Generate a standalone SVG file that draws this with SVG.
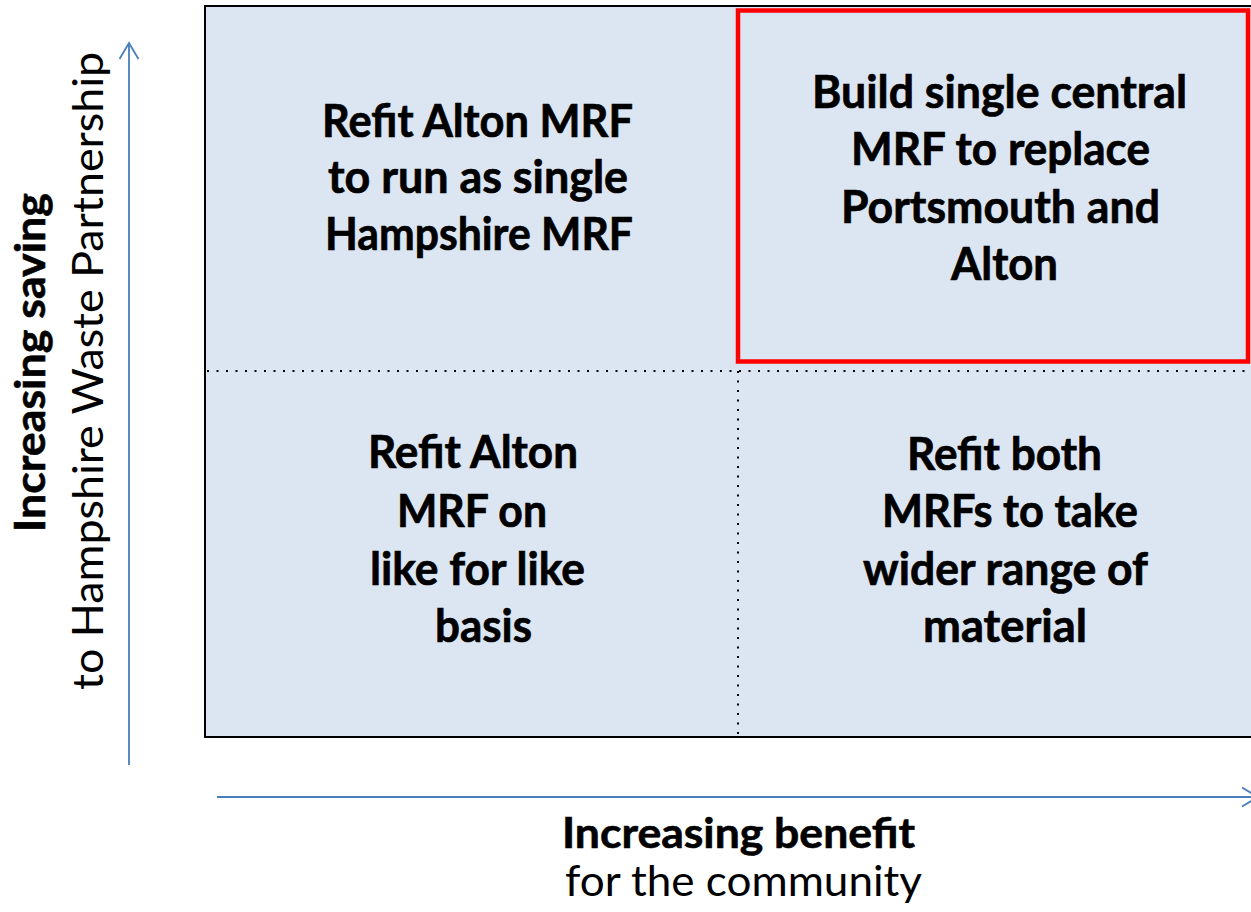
<svg xmlns="http://www.w3.org/2000/svg" width="1251" height="912" viewBox="0 0 1251 912">
  <style>
    .q { font-family: Lato, "Liberation Sans", sans-serif; font-weight: bold; font-size: 46px; fill: #000; stroke: #000; stroke-width: 0.7; text-anchor: middle; }
    .ab { font-family: Lato, "Liberation Sans", sans-serif; font-weight: bold; font-size: 42px; fill: #000; stroke: #000; stroke-width: 0.6; text-anchor: middle; }
    .an { font-family: Lato, "Liberation Sans", sans-serif; font-weight: normal; font-size: 43px; fill: #000; text-anchor: middle; }
    .dot { stroke: #000; stroke-width: 2; stroke-dasharray: 2 7.5; fill: none; }
    .axis { stroke: #4a7ebb; stroke-width: 1.8; fill: none; marker-end: url(#chev); }
  </style>
  <defs>
    <marker id="chev" viewBox="0 0 16 19" refX="16" refY="9.5" markerWidth="16" markerHeight="19" markerUnits="userSpaceOnUse" orient="auto" overflow="visible">
      <path d="M0,0 L16,9.5 L0,19" fill="none" stroke="#4a7ebb" stroke-width="1.8"/>
    </marker>
  </defs>
  <rect width="1251" height="912" fill="#ffffff"/>

  <g id="matrix">
    <rect x="205" y="6" width="1060" height="731" fill="#dce6f2" stroke="#000" stroke-width="2"/>
    <line class="dot" x1="207" y1="371" x2="1251" y2="371"/>
    <line class="dot" x1="738" y1="371" x2="738" y2="736"/>
  </g>

  <g id="connectors">
    <line class="axis" x1="129" y1="765" x2="129" y2="43"/>
    <line class="axis" x1="217" y1="797" x2="1258" y2="797"/>
  </g>

  <g id="q-top-left">
    <text class="q" x="477.5" y="137" textLength="311" lengthAdjust="spacingAndGlyphs">Refit Alton MRF</text>
    <text class="q" x="478" y="193" textLength="300" lengthAdjust="spacingAndGlyphs">to run as single</text>
    <text class="q" x="479" y="250" textLength="308" lengthAdjust="spacingAndGlyphs">Hampshire MRF</text>
  </g>

  <g id="q-top-right">
    <rect x="738" y="10.5" width="510" height="351" fill="none" stroke="#ff0000" stroke-width="4.5"/>
    <text class="q" x="999.5" y="108" textLength="375" lengthAdjust="spacingAndGlyphs">Build single central</text>
    <text class="q" x="1000.5" y="165" textLength="299" lengthAdjust="spacingAndGlyphs">MRF to replace</text>
    <text class="q" x="1000.5" y="223" textLength="319" lengthAdjust="spacingAndGlyphs">Portsmouth and</text>
    <text class="q" x="1004.5" y="280" textLength="107" lengthAdjust="spacingAndGlyphs">Alton</text>
  </g>

  <g id="q-bottom-left">
    <text class="q" x="473" y="468" textLength="210" lengthAdjust="spacingAndGlyphs">Refit Alton</text>
    <text class="q" x="472" y="527" textLength="150" lengthAdjust="spacingAndGlyphs">MRF on</text>
    <text class="q" x="477.5" y="585" textLength="215" lengthAdjust="spacingAndGlyphs">like for like</text>
    <text class="q" x="483.5" y="642" textLength="97" lengthAdjust="spacingAndGlyphs">basis</text>
  </g>

  <g id="q-bottom-right">
    <text class="q" x="1004.5" y="470" textLength="195" lengthAdjust="spacingAndGlyphs">Refit both</text>
    <text class="q" x="1010" y="527" textLength="256" lengthAdjust="spacingAndGlyphs">MRFs to take</text>
    <text class="q" x="1005.5" y="585" textLength="285" lengthAdjust="spacingAndGlyphs">wider range of</text>
    <text class="q" x="1005" y="642" textLength="164" lengthAdjust="spacingAndGlyphs">material</text>
  </g>

  <g id="y-label">
    <text class="ab" transform="translate(45,362.5) rotate(-90)" x="0" y="0" textLength="339" lengthAdjust="spacingAndGlyphs">Increasing saving</text>
    <text class="an" transform="translate(103,371) rotate(-90)" x="0" y="0" textLength="638" lengthAdjust="spacingAndGlyphs">to Hampshire Waste Partnership</text>
  </g>

  <g id="x-label">
    <text class="ab" x="738.5" y="848" textLength="353" lengthAdjust="spacingAndGlyphs">Increasing benefit</text>
    <text class="an" x="743.5" y="896" textLength="357" lengthAdjust="spacingAndGlyphs">for the community</text>
  </g>
</svg>
